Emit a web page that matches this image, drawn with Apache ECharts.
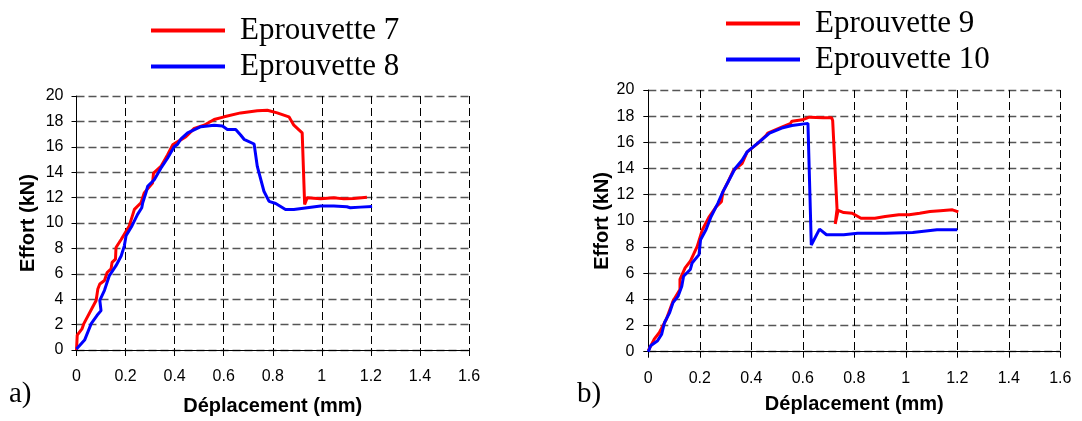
<!DOCTYPE html>
<html>
<head>
<meta charset="utf-8">
<script src="https://cdn.jsdelivr.net/npm/echarts@6/dist/echarts.min.js"></script>
<style>
html,body{margin:0;padding:0;background:#fff;}
#chart{width:1082px;height:421px;}
</style>
</head>
<body>
<div id="chart"></div>
<script>
// Déplacement (mm), Effort (kN)
const eprouvette7 = [[0,0],[0.003,1.17],[0.023,1.69],[0.03,2.08],[0.08,3.9],[0.087,4.8],[0.095,5.2],[0.114,5.47],[0.125,6.1],[0.141,6.4],[0.145,6.9],[0.159,7.16],[0.161,8.07],[0.182,8.7],[0.215,9.77],[0.236,11.07],[0.263,11.6],[0.276,12.37],[0.31,13.15],[0.314,13.93],[0.344,14.45],[0.371,15.36],[0.392,16.15],[0.446,16.8],[0.48,17.45],[0.52,17.7],[0.561,18.15],[0.602,18.36],[0.669,18.67],[0.737,18.83],[0.778,18.88],[0.818,18.67],[0.866,18.36],[0.886,17.7],[0.92,17.1],[0.93,11.46],[0.94,11.98],[0.995,11.9],[1.049,11.98],[1.09,11.9],[1.13,11.93],[1.184,12.03]];
const eprouvette8 = [[0,0.08],[0.033,0.78],[0.06,2.08],[0.084,2.73],[0.1,3.1],[0.108,3.2],[0.095,3.9],[0.114,4.7],[0.134,5.86],[0.161,6.64],[0.182,7.4],[0.195,8.2],[0.202,9.0],[0.226,9.77],[0.249,10.68],[0.266,11.2],[0.27,11.6],[0.283,12.37],[0.29,12.89],[0.317,13.41],[0.344,14.32],[0.371,15.1],[0.398,16.0],[0.412,16.2],[0.425,16.6],[0.432,16.75],[0.453,17.1],[0.507,17.58],[0.561,17.7],[0.595,17.63],[0.615,17.37],[0.649,17.37],[0.669,16.93],[0.683,16.59],[0.724,16.22],[0.737,14.45],[0.764,12.5],[0.785,11.7],[0.812,11.54],[0.852,11.07],[0.886,11.07],[0.94,11.2],[0.995,11.33],[1.049,11.33],[1.102,11.28],[1.116,11.2],[1.157,11.25],[1.205,11.3]];
const eprouvette9 = [[0,0.08],[0.023,0.96],[0.043,1.47],[0.07,2.48],[0.096,3.87],[0.123,4.76],[0.123,5.52],[0.143,6.4],[0.163,6.91],[0.19,8.05],[0.21,9.32],[0.237,10.33],[0.264,11.09],[0.284,11.47],[0.29,12.23],[0.31,12.99],[0.331,13.87],[0.364,14.38],[0.384,15.27],[0.424,15.9],[0.458,16.53],[0.464,16.71],[0.518,17.16],[0.551,17.42],[0.558,17.62],[0.598,17.72],[0.625,17.92],[0.679,17.87],[0.712,17.87],[0.716,17.67],[0.733,10.9],[0.726,9.77],[0.737,10.8],[0.759,10.63],[0.792,10.58],[0.826,10.2],[0.88,10.2],[0.92,10.33],[0.973,10.46],[1.013,10.46],[1.054,10.58],[1.094,10.71],[1.134,10.78],[1.181,10.84],[1.204,10.68]];
const eprouvette10 = [[0,0],[0.009,0.46],[0.036,0.84],[0.052,1.34],[0.063,2.23],[0.083,2.99],[0.096,3.75],[0.116,4.25],[0.13,5.01],[0.137,5.77],[0.163,6.28],[0.17,6.78],[0.197,7.42],[0.203,8.56],[0.224,9.32],[0.244,10.33],[0.27,11.34],[0.29,12.23],[0.31,12.99],[0.337,14.0],[0.364,14.63],[0.384,15.27],[0.431,16.03],[0.471,16.71],[0.518,17.09],[0.558,17.29],[0.62,17.45],[0.633,8.15],[0.665,9.37],[0.692,8.94],[0.759,8.94],[0.813,9.06],[0.92,9.06],[1.027,9.11],[1.121,9.32],[1.2,9.32]];

const seriesNamesA = ['Eprouvette 7', 'Eprouvette 8'];
const seriesNamesB = ['Eprouvette 9', 'Eprouvette 10'];
const xAxisTitle = 'Déplacement (mm)';
const yAxisTitle = 'Effort (kN)';
const panelLabels = ['a)', 'b)'];

const RED = '#ff0000', BLUE = '#0000ff';
const SANS = 'Liberation Sans, Arial, sans-serif';
const SERIF = 'Liberation Serif, Times New Roman, serif';

function xAxisCfg(gridIndex, gap) {
  return {
    type: 'value', gridIndex, min: 0, max: 1.6, interval: 0.2,
    name: xAxisTitle, nameLocation: 'middle', nameGap: gap,
    nameTextStyle: {fontFamily: SANS, fontWeight: 'bold', fontSize: 20, color: '#000'},
    axisLine: {show: true, onZero: false, lineStyle: {color: '#000', width: 1}},
    axisTick: {show: true, length: 6, lineStyle: {color: '#000'}},
    axisLabel: {fontFamily: SANS, fontSize: 16, color: '#000', margin: 19},
    splitLine: {show: true, lineStyle: {color: '#000', width: 1, type: [8, 4]}}
  };
}
function yAxisCfg(gridIndex, gap, margin) {
  return {
    type: 'value', gridIndex, min: 0, max: 20, interval: 2,
    name: yAxisTitle, nameLocation: 'middle', nameGap: gap, nameRotate: 90,
    nameTextStyle: {fontFamily: SANS, fontWeight: 'bold', fontSize: 20, color: '#000'},
    axisLine: {show: true, onZero: false, lineStyle: {color: '#000', width: 1}},
    axisTick: {show: true, length: 5, lineStyle: {color: '#000'}},
    axisLabel: {fontFamily: SANS, fontSize: 16, color: '#000', margin: margin},
    splitLine: {show: true, lineStyle: {color: '#555', width: 1.4, type: [8, 4]}}
  };
}
function lineSeries(name, data, color, idx) {
  return {
    name, type: 'line', data, xAxisIndex: idx, yAxisIndex: idx,
    showSymbol: false, symbol: 'none', smooth: false, animation: false,
    lineStyle: {color, width: 3}, itemStyle: {color}
  };
}
function legendCfg(names, left, top) {
  return {
    data: names, orient: 'vertical', left, top, padding: 0,
    icon: 'rect', itemWidth: 74, itemHeight: 4, itemGap: 5,
    textStyle: {fontFamily: SERIF, fontSize: 31, color: '#000', padding: [0, 0, 0, 10]}
  };
}

const chart = echarts.init(document.getElementById('chart'), null, {renderer: 'canvas'});
chart.setOption({
  backgroundColor: '#fff',
  animation: false,
  grid: [
    {left: 76.5, top: 96, width: 392.5, height: 256},
    {left: 648.3, top: 90, width: 412, height: 261.7}
  ],
  xAxis: [xAxisCfg(0, 46), xAxisCfg(1, 43)],
  yAxis: [yAxisCfg(0, 38, 13), yAxisCfg(1, 33, 14)],
  legend: [legendCfg(seriesNamesA, 151, 15), legendCfg(seriesNamesB, 726, 8)],
  series: [
    lineSeries(seriesNamesA[0], eprouvette7, RED, 0),
    lineSeries(seriesNamesA[1], eprouvette8, BLUE, 0),
    lineSeries(seriesNamesB[0], eprouvette9, RED, 1),
    lineSeries(seriesNamesB[1], eprouvette10, BLUE, 1)
  ],
  graphic: [
    {type: 'text', left: 9, top: 380, style: {text: panelLabels[0], font: '29px ' + SERIF, fill: '#000'}},
    {type: 'text', left: 577, top: 380, style: {text: panelLabels[1], font: '29px ' + SERIF, fill: '#000'}}
  ]
});
</script>
</body>
</html>
